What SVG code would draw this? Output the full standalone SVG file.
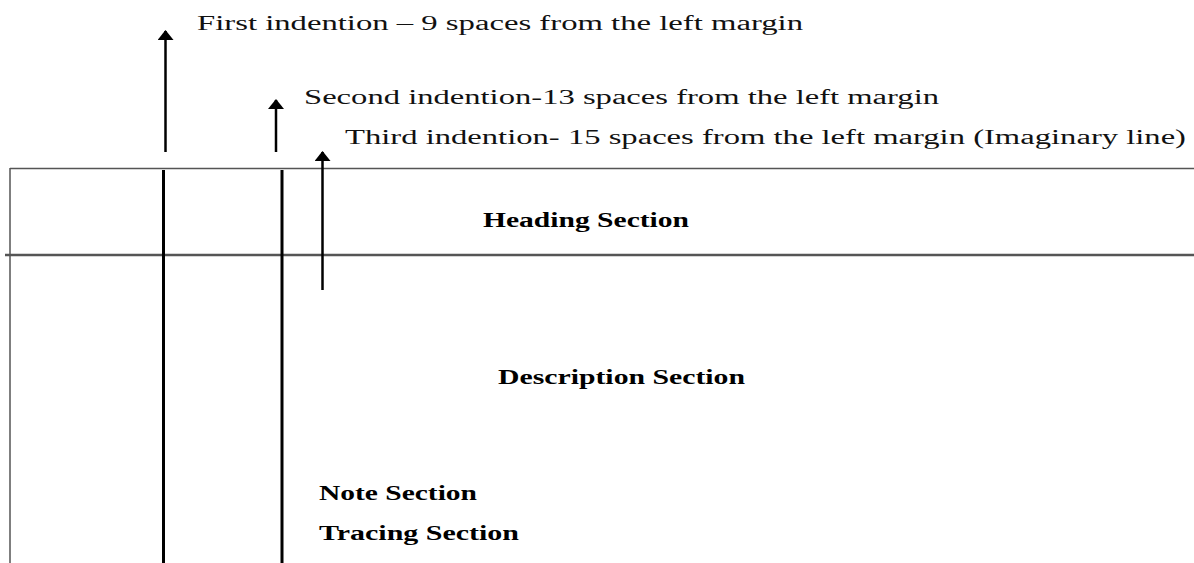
<svg xmlns="http://www.w3.org/2000/svg" width="1194" height="563" viewBox="0 0 1194 563">
  <style>
    .lbl { font-family: "Liberation Serif", "Times New Roman", serif; font-size: 20px; fill: #111; }
    .sec { font-family: "Liberation Serif", "Times New Roman", serif; font-size: 20px; font-weight: bold; fill: #000; }
    .rule { stroke: #555; fill: none; }
    .guide { stroke: #000; stroke-width: 3; fill: none; }
    .arrow { stroke: #000; stroke-width: 2.5; fill: none; marker-end: url(#head); }
  </style>
  <defs>
    <marker id="head" viewBox="0 0 10 16" refX="9" refY="8" markerWidth="10" markerHeight="16" markerUnits="userSpaceOnUse" orient="auto">
      <path d="M0,0 L10,8 L0,16 Z" fill="#000"/>
    </marker>
  </defs>
  <rect width="1194" height="563" fill="#fff"/>

  <!-- page frame and section divider -->
  <g id="frame">
    <line class="rule" x1="10" y1="168.5" x2="1194" y2="168.5" stroke-width="1.5"/>
    <line class="rule" x1="10" y1="168" x2="10" y2="563" stroke-width="1.5"/>
    <line class="rule" x1="5" y1="255" x2="1194" y2="255" stroke-width="2.4" stroke="#444"/>
  </g>

  <!-- indention guide lines -->
  <g id="guides">
    <line class="guide" x1="163.5" y1="170" x2="163.5" y2="563"/>
    <line class="guide" x1="282" y1="170" x2="282" y2="563" stroke-width="2.7"/>
  </g>

  <!-- pointer arrows -->
  <g id="connectors">
    <line class="arrow" x1="165.5" y1="152" x2="165.5" y2="31"/>
    <line class="arrow" x1="276" y1="152" x2="276" y2="100"/>
    <line class="arrow" x1="322.5" y1="290" x2="322.5" y2="152"/>
  </g>

  <g id="label-first">
    <text class="lbl" x="197" y="30" textLength="606" lengthAdjust="spacingAndGlyphs">First indention – 9 spaces from the left margin</text>
  </g>
  <g id="label-second">
    <text class="lbl" x="304" y="104" textLength="635" lengthAdjust="spacingAndGlyphs">Second indention-13 spaces from the left margin</text>
  </g>
  <g id="label-third">
    <text class="lbl" x="345" y="144" textLength="841" lengthAdjust="spacingAndGlyphs">Third indention- 15 spaces from the left margin (Imaginary line)</text>
  </g>

  <g id="heading-section">
    <text class="sec" x="483" y="227" textLength="206" lengthAdjust="spacingAndGlyphs">Heading Section</text>
  </g>
  <g id="description-section">
    <text class="sec" x="498" y="384" textLength="247" lengthAdjust="spacingAndGlyphs">Description Section</text>
  </g>
  <g id="note-section">
    <text class="sec" x="319" y="500" textLength="158" lengthAdjust="spacingAndGlyphs">Note Section</text>
  </g>
  <g id="tracing-section">
    <text class="sec" x="319" y="540" textLength="200" lengthAdjust="spacingAndGlyphs">Tracing Section</text>
  </g>
</svg>
